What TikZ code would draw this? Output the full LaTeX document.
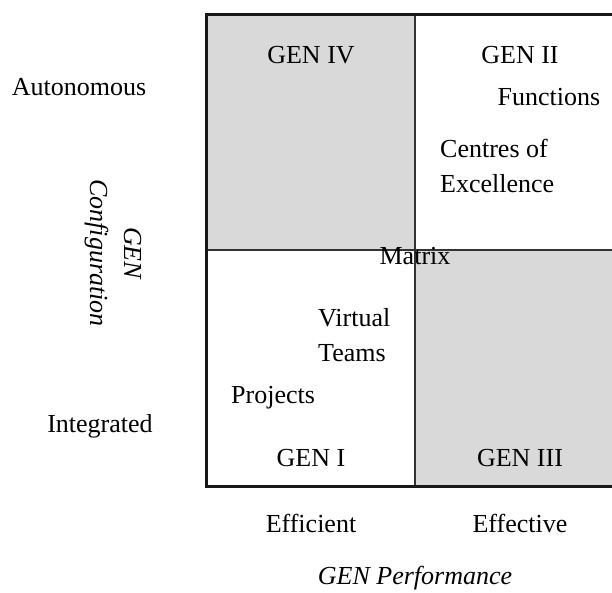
\documentclass[tikz,border=0pt]{standalone}
\usepackage{fontspec}
\setmainfont{Liberation Serif}
\begin{document}
\begin{tikzpicture}[x=1pt,y=-1pt,
  lbl/.style={inner sep=0pt,font=\fontsize{26}{35}\selectfont},
  lbll/.style={lbl,anchor=west,align=left},
  quad/.style={fill=black!15,draw=none},
  thin/.style={line width=1.2pt,draw=black!80},
  frame/.style={line width=3pt,draw=black!90}]
\useasboundingbox (0,0) rectangle (612,592);
\fill[quad] (206,14) rectangle (415,250);
\fill[quad] (415,250) rectangle (614,486);
\draw[thin] (415,14) -- (415,486);
\draw[thin] (206,250) -- (614,250);
\draw[frame] (614,14) -- (206,14) -- (206,486) -- (614,486);
\node[lbl] (g4) at (311,55) {GEN IV};
\node[lbl] (g2) at (520,55) {GEN II};
\node[lbl] (fn) at (549,97) {Functions};
\node[lbll] (coe) at (440,166) {Centres of\\Excellence};
\node[lbl] (mx) at (415,256) {Matrix};
\node[lbll] (vt) at (318,335) {Virtual\\Teams};
\node[lbll] (pj) at (231,398) {Projects};
\node[lbl] (g1) at (311,458) {GEN I};
\node[lbl] (g3) at (520,458) {GEN III};
\node[lbl] (au) at (79,87) {Autonomous};
\node[lbl] (in) at (100,426) {Integrated};
\node[lbl,rotate=-90,align=center,font=\fontsize{26}{34}\selectfont\itshape] (cfg) at (113,253) {GEN\\Configuration};
\node[lbl] (ef) at (311,523) {Efficient};
\node[lbl] (ev) at (520,523) {Effective};
\node[lbl,font=\fontsize{26}{35}\selectfont\itshape] (pf) at (415,578) {GEN Performance};
\end{tikzpicture}
\end{document}
